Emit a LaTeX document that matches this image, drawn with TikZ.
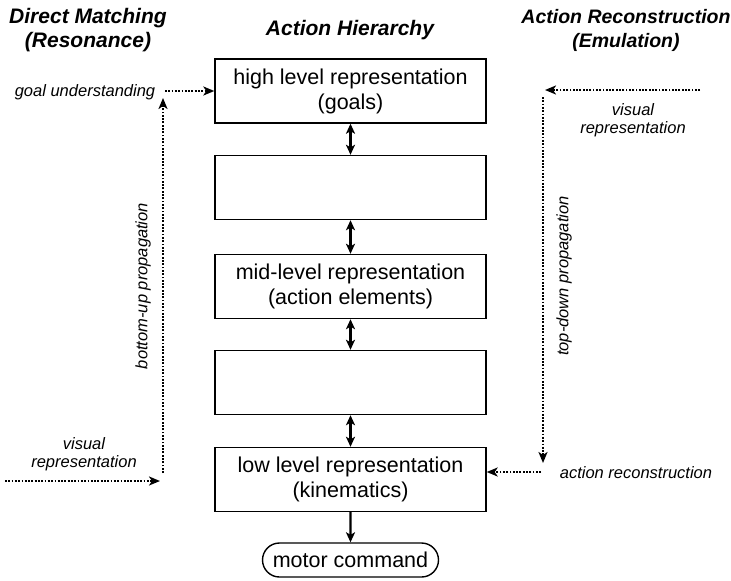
\documentclass[tikz,border=0pt]{standalone}
\usepackage{fontspec}
\setmainfont{Liberation Sans}
\usetikzlibrary{arrows.meta,shapes.misc}
\begin{document}
\begin{tikzpicture}[x=1pt,y=-1pt,
  hbox/.style={draw,line width=1.4pt,minimum width=271pt,minimum height=64pt,inner sep=0pt,align=center,font=\fontsize{21.5}{25}\selectfont},
  title/.style={align=center,font=\fontsize{21}{24}\selectfont\bfseries\itshape},
  lab/.style={align=center,font=\fontsize{16.5}{18.5}\selectfont\itshape},
  dotarrow/.style={line width=2.2pt,dash pattern=on 1.8pt off 1.5pt,-{Stealth[length=11pt,width=9pt,inset=3pt]}},
  solarrow/.style={line width=2.3pt,{Stealth[length=10pt,width=9pt,inset=2.5pt]}-{Stealth[length=10pt,width=9pt,inset=2.5pt]}},
  onearrow/.style={line width=2.3pt,-{Stealth[length=10pt,width=9pt,inset=2.5pt]}}]
\useasboundingbox (0,0) rectangle (731,581);

% titles
\node[title] (tl) at (88,30) {Direct Matching\\(Resonance)};
\node[title] (tm) at (350,30) {Action Hierarchy};
\node[title,font=\fontsize{19.5}{24}\selectfont\bfseries\itshape] (tr) at (626,30) {Action Reconstruction\\(Emulation)};

% hierarchy boxes
\node[hbox] (b1) at (350.5,91) {high level representation\\(goals)};
\node[hbox] (b2) at (350.5,187.5) {};
\node[hbox] (b3) at (350.5,286.5) {mid-level representation\\(action elements)};
\node[hbox] (b4) at (350.5,382.5) {};
\node[hbox] (b5) at (350.5,479.5) {low level representation\\(kinematics)};
\node[draw,line width=1.4pt,rounded rectangle,minimum width=176pt,minimum height=34pt,inner sep=0pt,font=\fontsize{21.5}{25}\selectfont] (mc) at (350.5,560) {motor command};

\draw[solarrow] (b1) -- (b2);
\draw[solarrow] (b2) -- (b3);
\draw[solarrow] (b3) -- (b4);
\draw[solarrow] (b4) -- (b5);
\draw[onearrow] (b5) -- (mc);

% left side
\node[lab] (gu) at (85,92) {goal understanding};
\node[lab] (lvr) at (84,454) {visual\\representation};
\node[lab,rotate=90] (bu) at (143,286) {bottom-up propagation};
\coordinate (l0) at (5,481);
\coordinate (l1) at (160,481);
\coordinate (l2) at (163,473);
\coordinate (l3) at (163,98);
\coordinate (l4) at (165,91);
\draw[dotarrow] (l0) -- (l1);
\draw[dotarrow] (l2) -- (l3);
\draw[dotarrow] (l4) -- (l4 -| b1.west);

% right side
\node[lab] (rvr) at (633,120) {visual\\representation};
\node[lab] (ar) at (636,473) {action reconstruction};
\node[lab,rotate=90] (td) at (564,276) {top-down propagation};
\coordinate (r0) at (700,90);
\coordinate (r1) at (545,90);
\coordinate (r2) at (543,97);
\coordinate (r3) at (543,463);
\coordinate (r4) at (541,472);
\draw[dotarrow] (r0) -- (r1);
\draw[dotarrow] (r2) -- (r3);
\draw[dotarrow] (r4) -- (r4 -| b5.east);
\end{tikzpicture}
\end{document}
